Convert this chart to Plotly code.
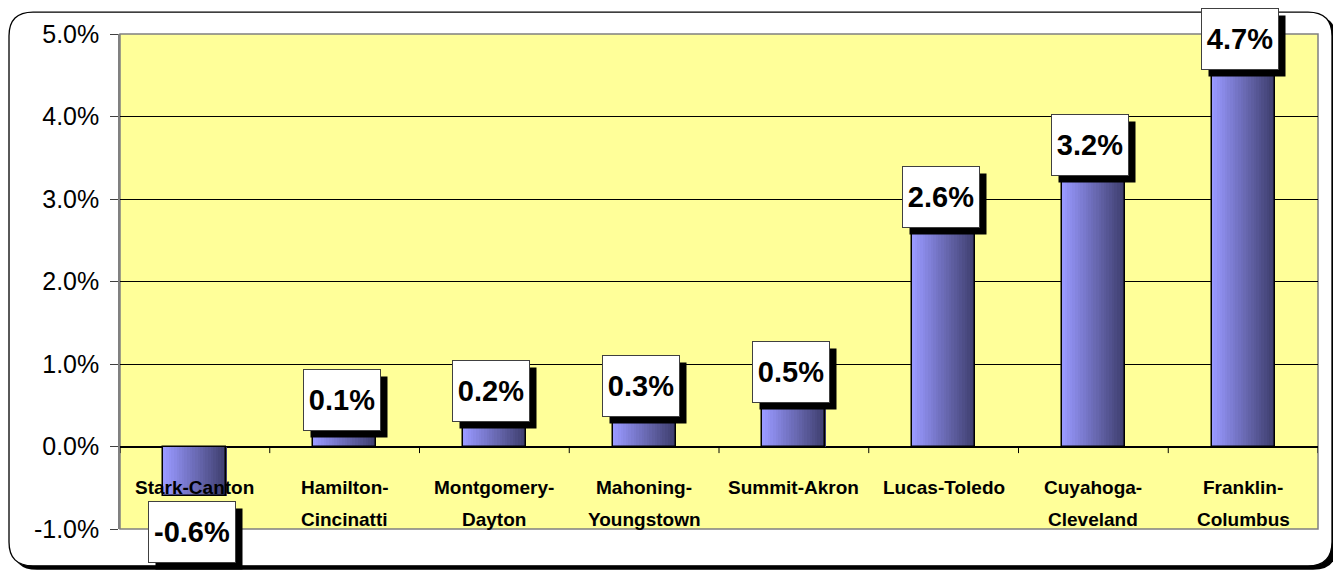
import plotly.graph_objects as go

# ---------------- data ----------------
categories = ["Stark-Canton", "Hamilton-Cincinatti", "Montgomery-Dayton",
              "Mahoning-Youngstown", "Summit-Akron", "Lucas-Toledo",
              "Cuyahoga-Cleveland", "Franklin-Columbus"]
label_line1 = ["Stark-Canton", "Hamilton-", "Montgomery-", "Mahoning-",
               "Summit-Akron", "Lucas-Toledo", "Cuyahoga-", "Franklin-"]
label_line2 = ["", "Cincinatti", "Dayton", "Youngstown", "", "", "Cleveland", "Columbus"]
values_pct = [-0.6, 0.12, 0.22, 0.29, 0.46, 2.58, 3.21, 4.70]
y_ticks_pct = [-1, 0, 1, 2, 3, 4, 5]

values = [v / 100 for v in values_pct]
y_ticks = [t / 100 for t in y_ticks_pct]
y_ticktext = [f"{t:.1f}%" for t in y_ticks_pct]

# page renders the figure with an 8px body margin
OFF = 8
W, H = 1341 - OFF, 571 - OFF
L, R, T, B = 120, 1318, 32, 529  # plot area box in reference pixels

def px(x):
    return (x - L) / (R - L)

def py(y):
    return (B - y) / (B - T)

def rounded(x0, y0, x1, y1, r):
    pts = [
        ("M", (x0 + r, y0)), ("L", (x1 - r, y0)), ("Q", (x1, y0), (x1, y0 + r)),
        ("L", (x1, y1 - r)), ("Q", (x1, y1), (x1 - r, y1)),
        ("L", (x0 + r, y1)), ("Q", (x0, y1), (x0, y1 - r)),
        ("L", (x0, y0 + r)), ("Q", (x0, y0), (x0 + r, y0)),
    ]
    s = ""
    for item in pts:
        cmd = item[0]
        coords = " ".join(f"{px(a):.5f},{py(b):.5f}" for a, b in item[1:])
        s += f"{cmd} {coords} "
    return s + "Z"

fig = go.Figure()

# gradient bars built from thin slices
bar_w = 0.42
N = 24
c0 = (153, 153, 255)
c1 = (62, 62, 110)
for i in range(N):
    t = i / (N - 1)
    col = tuple(round(c0[k] + (c1[k] - c0[k]) * t) for k in range(3))
    fig.add_trace(go.Bar(
        x=categories, y=values,
        width=bar_w / N * 1.15,
        offset=-bar_w / 2 + i * bar_w / N,
        marker=dict(color=f"rgb{col}", line=dict(width=0)),
        showlegend=False, hoverinfo="skip",
    ))
# outline
fig.add_trace(go.Bar(
    x=categories, y=values, width=bar_w, offset=-bar_w / 2,
    marker=dict(color="rgba(0,0,0,0)", line=dict(color="black", width=1.5)),
    showlegend=False, hovertemplate="%{x}: %{y:.1%}<extra></extra>",
))

shapes = [
    # outer frame shadow + frame
    dict(type="path", path=rounded(13, 14, 1337, 570, 24), xref="paper", yref="paper",
         fillcolor="black", line=dict(width=0), layer="below"),
    dict(type="path", path=rounded(9, 10, 1332, 566, 24), xref="paper", yref="paper",
         fillcolor="white", line=dict(color="black", width=1.3), layer="below"),
    # plot area
    dict(type="rect", x0=0, x1=1, y0=0, y1=1, xref="paper", yref="paper",
         fillcolor="#FFFF99", line=dict(color="#808080", width=1.5), layer="below"),
]
# category ticks on the zero line
for k in range(len(categories) + 1):
    shapes.append(dict(type="line", x0=k - 0.5, x1=k - 0.5, y0=0, y1=-0.0008,
                       xref="x", yref="y", line=dict(color="black", width=1)))

cat_font = dict(family="Liberation Sans, Arial", size=19, color="black")
annotations = []
for k, (l1, l2) in enumerate(zip(label_line1, label_line2)):
    annotations.append(dict(x=k, y=0, xref="x", yref="y", text=f"<b>{l1}</b>",
                            showarrow=False, yanchor="middle", yshift=-41, font=cat_font))
    if l2:
        annotations.append(dict(x=k, y=0, xref="x", yref="y", text=f"<b>{l2}</b>",
                                showarrow=False, yanchor="middle", yshift=-73, font=cat_font))

for k, v in enumerate(values):
    txt = f"{v*100:.1f}%"
    bw = 76 if len(txt) == 4 else 86
    if v >= 0:
        ya = min(v, 0.0449)
        yanchor, ysh = "bottom", 6
    else:
        ya = v
        yanchor, ysh = "top", -5
    common = dict(x=k, y=ya, xref="x", yref="y", showarrow=False, yanchor=yanchor,
                  width=bw - 2, height=58, align="center", valign="middle")
    # drop shadow box (no text)
    annotations.append(dict(common, text=" ", xshift=4, yshift=ysh - 7,
                            bgcolor="black",
                            font=dict(family="Liberation Sans, Arial", size=29, color="black")))
    annotations.append(dict(common, text=f"<b>{txt}</b>", xshift=-3, yshift=ysh,
                            bgcolor="white", bordercolor="#404040", borderwidth=1,
                            font=dict(family="Liberation Sans, Arial", size=29, color="black")))

fig.update_layout(
    width=W, height=H,
    margin=dict(l=L - OFF, r=W - (R - OFF), t=T - OFF, b=H - (B - OFF), pad=0),
    paper_bgcolor="white", plot_bgcolor="rgba(0,0,0,0)",
    barmode="overlay", bargap=0,
    shapes=shapes, annotations=annotations,
    xaxis=dict(range=[-0.5, len(categories) - 0.5], showticklabels=False,
               showgrid=False, zeroline=False, ticks="", showline=False),
    yaxis=dict(range=[-0.01, 0.05], tickvals=y_ticks, ticktext=y_ticktext,
               showgrid=True, gridcolor="black", gridwidth=1,
               zeroline=True, zerolinecolor="black", zerolinewidth=1.5,
               ticks="outside", ticklen=8, tickcolor="#404040", ticklabelstandoff=6,
               showline=True, linecolor="#808080", linewidth=1.5,
               tickfont=dict(family="Liberation Sans, Arial", size=25, color="black")),
    font=dict(family="Liberation Sans, Arial"),
)

fig.write_html("out.html")
